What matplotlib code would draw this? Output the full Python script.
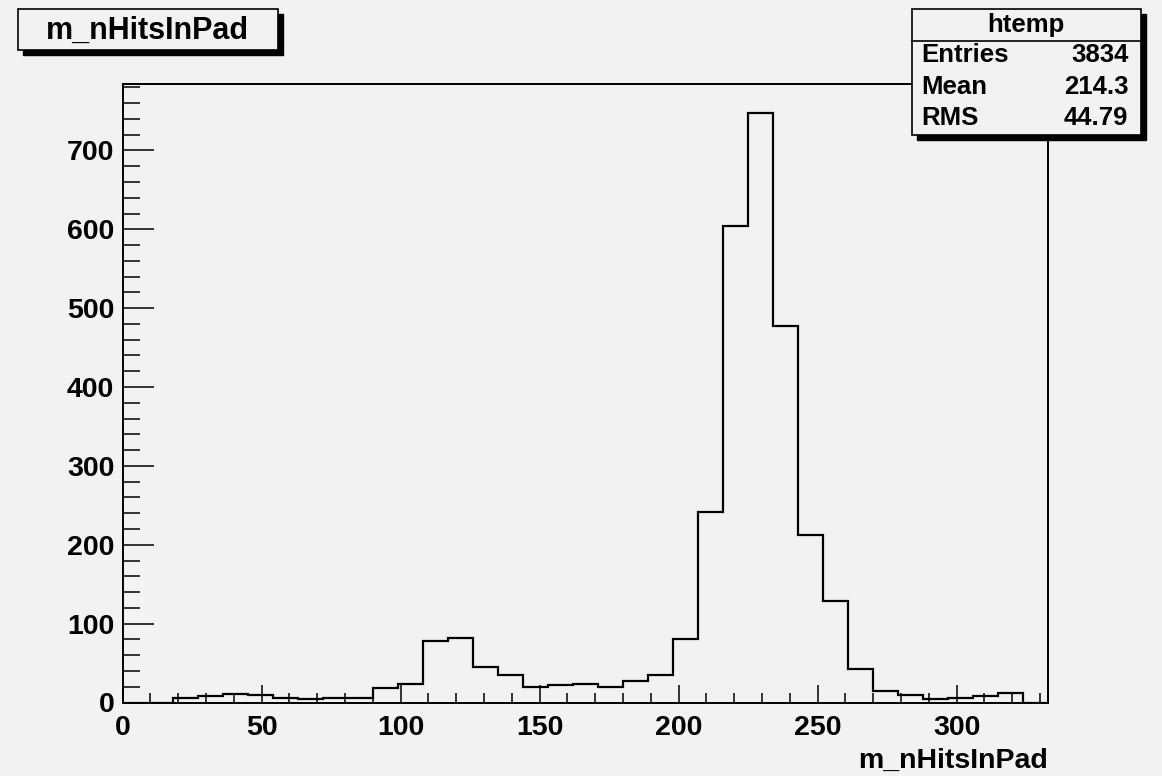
import matplotlib
matplotlib.use('Agg')
import matplotlib.pyplot as plt
from matplotlib.patches import Rectangle
from matplotlib.lines import Line2D
from matplotlib.ticker import MultipleLocator

# histogram bins (width 9) and counts
bin_edges = [0, 9, 18, 27, 36, 45, 54, 63, 72, 81, 90, 99, 108, 117, 126, 135,
             144, 153, 162, 171, 180, 189, 198, 207, 216, 225, 234, 243, 252,
             261, 270, 279, 288, 297, 306, 315, 324, 333]
counts = [0, 0, 6, 8, 11, 9, 6, 4, 6, 6, 19, 24, 78, 82, 45, 35,
          20, 22, 24, 20, 27, 35, 80, 241, 604, 747, 478, 212, 129,
          43, 14, 10, 4, 6, 8, 12, 0]

title = 'm_nHitsInPad'
x_label = 'm_nHitsInPad'
stats_name = 'htemp'
stats_rows = [('Entries', '3834'), ('Mean', '214.3'), ('RMS', '44.79')]

BG = '#f2f2f2'
FONT = 'Liberation Sans'
W, H = 1162, 776

fig = plt.figure(figsize=(W / 100, H / 100), dpi=100, facecolor=BG)


def fx(px):
    return px / W


def fy(py):
    return 1 - py / H


ax = fig.add_axes([fx(122.7), fy(702.5), fx(1048.3) - fx(122.7), fy(83.7) - fy(702.5)])
ax.set_facecolor(BG)

ax.stairs(counts, bin_edges, baseline=0, color='black', linewidth=1.6)

ax.set_xlim(0, 333)
ax.set_ylim(0, 784.6)

ax.xaxis.set_major_locator(MultipleLocator(50))
ax.xaxis.set_minor_locator(MultipleLocator(10))
ax.yaxis.set_major_locator(MultipleLocator(100))
ax.yaxis.set_minor_locator(MultipleLocator(20))

ax.tick_params(axis='x', which='both', direction='in', top=False, width=1.1)
ax.tick_params(axis='x', which='major', length=13, pad=9)
ax.tick_params(axis='x', which='minor', length=7)
ax.tick_params(axis='y', which='both', direction='in', right=False, width=1.1)
ax.tick_params(axis='y', which='major', length=22, pad=6)
ax.tick_params(axis='y', which='minor', length=12)

for lbl in ax.get_xticklabels() + ax.get_yticklabels():
    lbl.set_fontfamily(FONT)
    lbl.set_fontweight('bold')
    lbl.set_fontsize(20.5)

for sp in ax.spines.values():
    sp.set_linewidth(1.4)
    sp.set_color('black')

fig.text(fx(1048), fy(768), x_label, ha='right', va='baseline',
         fontfamily=FONT, fontweight='bold', fontsize=20.5)

# title box with shadow
shadow = 5
fig.add_artist(Rectangle((fx(17.7 + shadow), fy(50 + shadow)), fx(260), fy(0) - fy(41),
                         transform=fig.transFigure, facecolor='black', edgecolor='black'))
fig.add_artist(Rectangle((fx(17.7), fy(50)), fx(260), fy(0) - fy(41),
                         transform=fig.transFigure, facecolor=BG, edgecolor='black', linewidth=1.2))
fig.text(fx(147.7), fy(31), title, ha='center', va='center',
         fontfamily=FONT, fontweight='bold', fontsize=22)

# stats box with shadow
bx0, by0, bx1, by1 = 911.7, 9.3, 1140.7, 135
fig.add_artist(Rectangle((fx(bx0 + shadow), fy(by1 + shadow)), fx(bx1 - bx0), fy(0) - fy(by1 - by0),
                         transform=fig.transFigure, facecolor='black', edgecolor='black', zorder=5))
fig.add_artist(Rectangle((fx(bx0), fy(by1)), fx(bx1 - bx0), fy(0) - fy(by1 - by0),
                         transform=fig.transFigure, facecolor=BG, edgecolor='black', linewidth=1.2, zorder=6))
fig.add_artist(Line2D([fx(bx0), fx(bx1)], [fy(40.7), fy(40.7)], transform=fig.transFigure,
                      color='black', linewidth=1.2, zorder=7))
fig.text(fx((bx0 + bx1) / 2), fy(25), stats_name, ha='center', va='center',
         fontfamily=FONT, fontweight='bold', fontsize=18.5, zorder=8)
row_y = [55, 87.3, 118.3]
for (name, val), ry in zip(stats_rows, row_y):
    fig.text(fx(921.7), fy(ry), name, ha='left', va='center',
             fontfamily=FONT, fontweight='bold', fontsize=18.5, zorder=8)
    fig.text(fx(1128.3), fy(ry), val, ha='right', va='center',
             fontfamily=FONT, fontweight='bold', fontsize=18.5, zorder=8)

plt.savefig('out.png', dpi=100, facecolor=BG)
plt.close()
